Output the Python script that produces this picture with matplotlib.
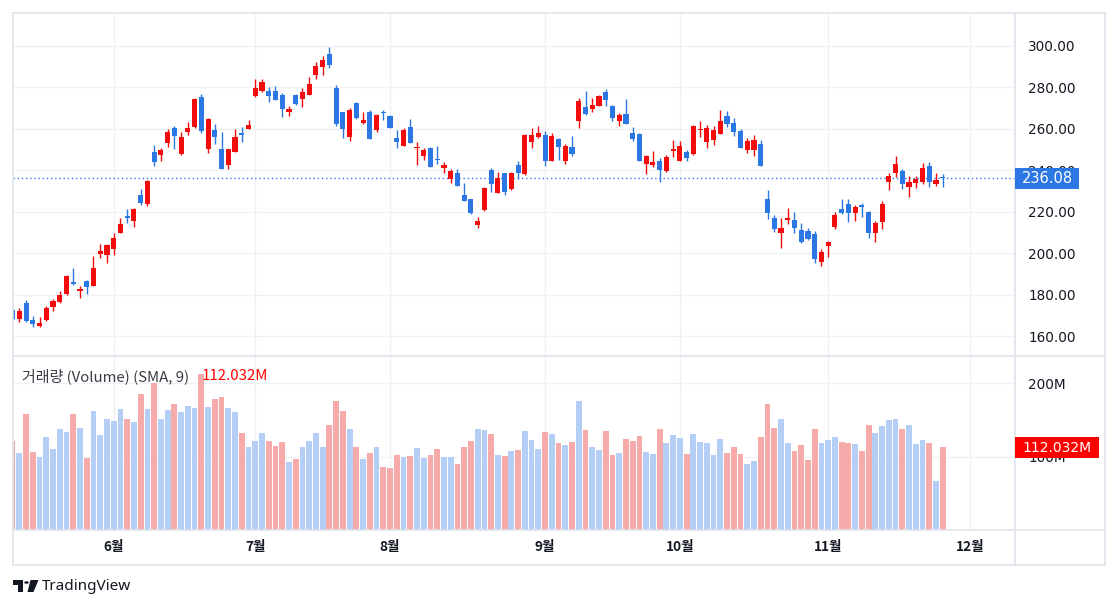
"""
Recreate a TradingView-style daily candlestick chart with a volume pane
(Korean locale: red = up candle, blue = down candle).
"""

import matplotlib

matplotlib.use("Agg")

import matplotlib.pyplot as plt
import numpy as np
from matplotlib.lines import Line2D
from matplotlib.patches import Circle, Polygon, Rectangle

# ---------------------------------------------------------------------------
# Data (one entry per trading day)
# ---------------------------------------------------------------------------

opens = [
    172.5, 168.2, 176.1, 167.7, 165.0, 167.7, 173.8, 176.5, 180.2, 186.0,
    181.9, 186.5, 184.3, 199.5, 199.0, 202.1, 209.8, 217.8, 215.6, 227.8,
    223.6, 248.5, 247.3, 253.2, 260.3, 247.8, 258.5, 260.9, 275.1, 250.3,
    259.3, 250.2, 242.5, 248.9, 258.1, 260.0, 275.7, 278.3, 278.1, 278.1,
    276.2, 268.2, 276.2, 274.1, 276.4, 286.0, 289.9, 296.0, 279.6, 267.9,
    255.8, 272.2, 262.9, 267.9, 259.3, 267.9, 266.3, 255.5, 251.8, 260.8,
    250.8, 247.0, 250.8, 245.5, 241.2, 235.6, 238.6, 228.0, 226.1, 213.5,
    220.7, 240.0, 229.1, 238.4, 230.9, 242.5, 238.1, 253.7, 255.8, 256.9,
    244.6, 254.8, 244.6, 251.1, 263.8, 270.3, 269.3, 270.9, 277.5, 270.9,
    263.8, 267.0, 258.1, 257.4, 243.0, 242.5, 244.4, 239.6, 249.4, 244.6,
    248.9, 247.8, 259.3, 253.7, 254.5, 257.4, 266.1, 262.7, 259.0, 249.7,
    249.7, 252.6, 226.1, 216.7, 209.5, 216.0, 215.9, 211.1, 210.6, 209.0,
    195.8, 203.5, 212.7, 221.1, 223.7, 219.5, 223.2, 220.0, 209.5, 215.1,
    234.4, 238.8, 239.6, 231.7, 233.6, 234.4, 242.1, 233.3, 236.9,
]
highs = [
    173.2, 173.4, 177.4, 169.6, 169.0, 174.5, 177.7, 181.9, 189.4, 193.0,
    184.1, 186.8, 198.6, 204.4, 204.2, 209.5, 216.7, 221.1, 221.5, 230.7,
    235.0, 252.0, 250.7, 259.8, 261.3, 258.5, 263.4, 274.9, 276.7, 265.1,
    262.2, 258.2, 250.4, 259.7, 261.0, 264.2, 283.9, 283.9, 279.9, 280.6,
    277.3, 270.9, 276.5, 279.6, 285.1, 292.3, 295.0, 299.5, 281.1, 268.2,
    269.8, 273.0, 267.9, 269.0, 267.1, 269.0, 266.6, 259.3, 260.1, 264.8,
    253.7, 250.5, 251.3, 251.6, 243.7, 240.5, 240.5, 233.9, 226.3, 217.5,
    232.0, 240.9, 239.3, 238.6, 239.3, 244.6, 257.3, 260.1, 261.3, 258.8,
    257.7, 255.6, 252.6, 256.5, 274.6, 278.3, 274.6, 276.2, 278.9, 271.4,
    267.7, 274.1, 261.0, 257.7, 247.3, 249.4, 245.7, 247.3, 254.5, 254.1,
    249.7, 261.8, 263.8, 261.8, 261.3, 269.0, 268.5, 265.1, 259.6, 255.6,
    256.9, 254.5, 230.4, 218.3, 216.7, 221.6, 219.6, 214.6, 211.9, 210.6,
    202.2, 206.0, 219.6, 226.1, 226.1, 223.2, 224.0, 220.4, 215.6, 225.1,
    238.4, 247.0, 240.4, 237.2, 237.2, 243.6, 244.1, 238.4, 238.3,
]
lows = [
    167.8, 166.9, 166.8, 164.5, 164.5, 167.4, 172.2, 176.0, 179.8, 184.8,
    178.2, 180.2, 184.0, 197.4, 195.4, 199.0, 209.5, 214.6, 212.7, 223.3,
    222.7, 242.0, 244.5, 251.3, 250.2, 247.3, 256.9, 260.5, 258.1, 248.1,
    252.6, 240.3, 240.5, 248.6, 253.7, 259.8, 275.4, 277.8, 273.0, 273.8,
    265.5, 266.3, 271.5, 270.6, 276.2, 283.8, 286.0, 289.4, 261.3, 255.7,
    254.2, 264.8, 262.2, 255.0, 258.5, 264.2, 260.3, 250.5, 251.6, 253.0,
    242.5, 244.9, 241.5, 243.0, 238.5, 233.9, 232.3, 225.0, 219.0, 212.2,
    220.4, 229.6, 228.9, 228.0, 230.4, 235.6, 237.6, 250.8, 255.6, 242.2,
    244.4, 244.9, 243.0, 246.8, 260.5, 266.6, 268.2, 270.7, 270.9, 263.8,
    261.4, 262.2, 254.2, 244.4, 238.1, 241.7, 234.4, 239.1, 246.5, 244.4,
    244.6, 247.3, 256.1, 250.8, 252.1, 257.2, 260.6, 256.5, 250.6, 248.4,
    246.8, 242.1, 216.4, 210.3, 202.6, 214.0, 209.8, 205.0, 206.3, 195.1,
    193.9, 197.9, 211.4, 218.7, 215.1, 215.6, 217.5, 207.1, 205.5, 211.4,
    230.4, 236.8, 230.9, 226.9, 231.2, 233.3, 231.7, 232.5, 231.7,
]
closes = [
    168.0, 172.1, 167.4, 165.8, 166.4, 173.3, 176.7, 179.8, 188.9, 185.1,
    182.8, 183.8, 193.0, 201.1, 203.9, 207.3, 214.0, 216.9, 221.2, 224.3,
    234.7, 243.9, 249.7, 258.2, 256.6, 256.0, 260.3, 274.3, 259.0, 264.6,
    256.1, 240.5, 250.2, 256.0, 257.1, 261.7, 279.5, 282.5, 275.9, 274.0,
    269.3, 269.6, 271.7, 277.5, 281.5, 290.2, 293.1, 290.7, 262.2, 259.7,
    269.0, 265.0, 264.2, 255.2, 266.6, 267.4, 260.5, 253.7, 259.3, 253.2,
    251.3, 249.7, 241.7, 244.9, 242.6, 239.4, 232.5, 225.2, 219.2, 215.6,
    231.2, 233.1, 236.4, 229.6, 238.6, 238.4, 256.9, 256.9, 258.1, 244.4,
    256.5, 251.3, 251.6, 247.8, 273.3, 267.1, 271.4, 275.7, 274.0, 265.0,
    266.6, 262.4, 255.0, 244.6, 246.8, 243.9, 240.1, 246.5, 250.2, 251.6,
    246.0, 261.3, 260.0, 260.5, 259.3, 263.7, 262.2, 258.5, 250.8, 254.0,
    254.5, 242.1, 219.5, 211.6, 211.9, 216.7, 211.9, 205.5, 206.9, 197.0,
    200.3, 205.2, 218.4, 219.5, 219.2, 222.1, 222.1, 209.5, 214.7, 223.7,
    237.2, 242.8, 233.1, 234.4, 235.7, 240.9, 234.1, 235.2, 236.08,
]
# volume in millions of shares
volumes = [
    121, 105, 158, 106, 100, 127, 110, 138, 134, 158,
    139, 98, 162, 130, 151, 149, 165, 151, 147, 186,
    165, 200, 151, 164, 172, 161, 169, 166, 213, 168,
    179, 181, 166, 161, 132, 113, 121, 132, 121, 115,
    120, 93, 97, 113, 121, 132, 113, 143, 176, 162,
    138, 113, 97, 105, 113, 86, 85, 102, 100, 101,
    112, 98, 102, 110, 100, 100, 90, 113, 121, 138,
    136, 131, 102, 101, 108, 109, 135, 123, 110, 134,
    131, 119, 116, 120, 176, 136, 113, 109, 135, 102,
    105, 124, 121, 128, 106, 104, 138, 119, 130, 125,
    104, 131, 120, 119, 102, 124, 105, 113, 104, 90,
    94, 127, 172, 139, 151, 119, 108, 116, 95, 138,
    119, 123, 127, 120, 119, 117, 108, 143, 132, 142,
    150, 151, 138, 143, 117, 123, 119, 67, 113,
]

month_labels = ["6월", "7월", "8월", "9월", "10월", "11월", "12월"]
month_starts = [15, 36, 56, 79, 99, 121, 142]  # bar index of first session
price_ticks = [160, 180, 200, 220, 240, 260, 280, 300]
volume_ticks = [100, 200]
last_price = 236.08
volume_sma = 112.032

# ---------------------------------------------------------------------------
# Styling
# ---------------------------------------------------------------------------

UP_COLOR = "#f20c0c"
DOWN_COLOR = "#2b78e4"
VOL_UP = "#b5cef5"   # volume pane uses the opposite hues
VOL_DOWN = "#f7aaaa"
GRID_COLOR = "#eff1f5"
BORDER_COLOR = "#e0e3eb"
TEXT_COLOR = "#131722"
SMA_RED = "#ff0000"
KR_FONT = ["Noto Sans CJK KR", "DejaVu Sans"]

W, H = 1118, 609


def fx(x):
    return x / W


def fy(y):
    return 1 - y / H


fig = plt.figure(figsize=(W / 100, H / 100), dpi=100)
fig.patch.set_facecolor("white")

PANE_L, PANE_R = 12.5, 1015
PRICE_T, PRICE_B = 13, 356
VOL_B = 530

ax1 = fig.add_axes([fx(PANE_L), fy(PRICE_B), (PANE_R - PANE_L) / W, (PRICE_B - PRICE_T) / H])
ax2 = fig.add_axes([fx(PANE_L), fy(VOL_B), (PANE_R - PANE_L) / W, (VOL_B - PRICE_B) / H])

n = len(closes)
idx = np.arange(n)
o = np.array(opens)
c = np.array(closes)
up = c >= o

# -- candles --
candle_colors = [UP_COLOR if u else DOWN_COLOR for u in up]
ax1.vlines(idx, lows, highs, colors=candle_colors, linewidth=1.0, zorder=3)
body_bottom = np.minimum(o, c)
body_height = np.maximum(np.abs(c - o), 0.5)
ax1.bar(idx, body_height, bottom=body_bottom, width=0.76, color=candle_colors,
        linewidth=0, zorder=4)

# last price dotted line
ax1.axhline(last_price, color=DOWN_COLOR, linewidth=1.0, linestyle=(0, (1, 2)), zorder=2)

x_lo, x_hi = -0.015, 148.72
ax1.set_xlim(x_lo, x_hi)
ax1.set_ylim(150.36, 315.77)
ax1.set_xticks(month_starts)
ax1.set_xticklabels([])
ax1.set_yticks(price_ticks)
ax1.set_yticklabels([f"{t:.2f}" for t in price_ticks])
ax1.yaxis.tick_right()
ax1.tick_params(axis="both", length=0, colors=TEXT_COLOR, labelsize=9.8)
ax1.tick_params(axis="y", pad=9.5)
ax1.grid(color=GRID_COLOR, linewidth=1.0)
ax1.set_axisbelow(True)

# -- volume --
vol_colors = [VOL_UP if u else VOL_DOWN for u in up]
ax2.bar(idx, volumes, width=0.86, color=vol_colors, linewidth=0, zorder=3)
ax2.set_xlim(x_lo, x_hi)
ax2.set_ylim(0, 237.2)
ax2.set_yticks(volume_ticks)
ax2.set_yticklabels([f"{t}M" for t in volume_ticks])
ax2.yaxis.tick_right()
ax2.set_xticks(month_starts)
ax2.set_xticklabels(month_labels, family=KR_FONT, fontweight="bold", fontsize=10.5)
ax2.tick_params(axis="both", length=0, colors=TEXT_COLOR, labelsize=9.8)
ax2.tick_params(axis="y", pad=9.5)
ax2.tick_params(axis="x", pad=7)
ax2.grid(color=GRID_COLOR, linewidth=1.0)
ax2.set_axisbelow(True)

for ax in (ax1, ax2):
    for spine in ax.spines.values():
        spine.set_visible(False)


# -- frame lines --
def hline(y, x0, x1):
    fig.add_artist(Line2D([fx(x0), fx(x1)], [fy(y), fy(y)], color=BORDER_COLOR, linewidth=1.2))


def vline(x, y0, y1):
    fig.add_artist(Line2D([fx(x), fx(x)], [fy(y0), fy(y1)], color=BORDER_COLOR, linewidth=1.2))


hline(13, 12.5, 1105)
hline(565, 12.5, 1105)
hline(PRICE_B, 12.5, 1105)
hline(VOL_B, 12.5, 1105)
vline(12.5, 13, 565)
vline(1105, 13, 565)
vline(PANE_R, 13, 565)

# -- legend of the volume pane --
fig.text(fx(22), fy(376), "거래량 (Volume) (SMA, 9)", family=KR_FONT, fontsize=10.8,
         color="#3a3d45", va="center", ha="left")
fig.text(fx(202), fy(376), f"{volume_sma:.3f}M", family=KR_FONT, fontsize=10.8,
         color=SMA_RED, va="center", ha="left")

# -- price scale badges (they sit over the 240.00 / 100M labels, as in TradingView) --
fig.add_artist(Rectangle((fx(1015), fy(189)), 64 / W, 21 / H, transform=fig.transFigure,
                         facecolor=DOWN_COLOR, edgecolor="none", zorder=5))
fig.text(fx(1047), fy(178.5), f"{last_price:.2f}", color="white", fontsize=10.5,
         ha="center", va="center", zorder=6)

fig.add_artist(Rectangle((fx(1015), fy(458)), 84 / W, 21 / H, transform=fig.transFigure,
                         facecolor=SMA_RED, edgecolor="none", zorder=5))
fig.text(fx(1057), fy(447.5), f"{volume_sma:.3f}M", color="white", fontsize=10,
         ha="center", va="center", zorder=6)

# -- TradingView logo --
logo = "#131722"
fig.add_artist(Rectangle((fx(13), fy(584.5)), 10 / W, 4.5 / H, transform=fig.transFigure,
                         facecolor=logo, edgecolor="none"))
fig.add_artist(Rectangle((fx(18), fy(592)), 5 / W, 12 / H, transform=fig.transFigure,
                         facecolor=logo, edgecolor="none"))
fig.add_artist(Circle((fx(26.5), fy(582.5)), 2.3 / W, transform=fig.transFigure,
                      facecolor=logo, edgecolor="none"))
fig.add_artist(Polygon([(fx(30.5), fy(580)), (fx(38.5), fy(580)), (fx(33.5), fy(592)),
                        (fx(27.5), fy(592))],
                       closed=True, transform=fig.transFigure, facecolor=logo, edgecolor="none"))
fig.text(fx(42), fy(587), "TradingView", family=["Noto Sans", "DejaVu Sans"], fontsize=11,
         color=logo, va="center", ha="left")

fig.savefig("out.png", dpi=100)
